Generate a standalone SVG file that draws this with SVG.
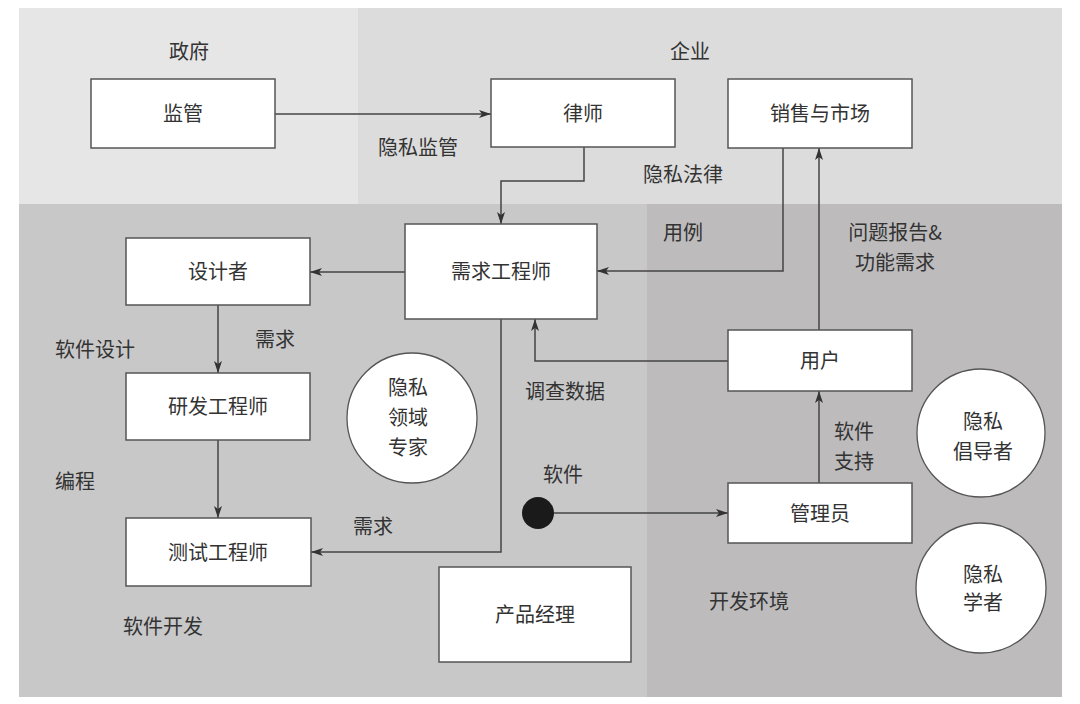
<svg xmlns="http://www.w3.org/2000/svg" width="1080" height="704" viewBox="0 0 1080 704">
<defs>
<marker id="arr" viewBox="0 0 12 8" refX="12" refY="4" markerWidth="12" markerHeight="8" markerUnits="userSpaceOnUse" orient="auto">
<path d="M0,0 L12,4 L0,8 L3,4 Z" fill="#333"/>
</marker>
<style>
text{font-family:"Noto Sans CJK SC","Liberation Sans",sans-serif;font-size:20px;fill:#333;text-anchor:middle}
.box{fill:#fff;stroke:#555;stroke-width:1.5}
.circ{fill:#fff;stroke:#555;stroke-width:1.3}
.conn{fill:none;stroke:#444;stroke-width:1.5;marker-end:url(#arr)}
</style>
</defs>
<rect x="0" y="0" width="1080" height="704" fill="#fff"/>
<g id="zones">
<rect x="19" y="8" width="339" height="196" fill="#e6e6e6"/>
<rect x="358" y="8" width="704" height="196" fill="#dcdcdc"/>
<rect x="19" y="204" width="628" height="493" fill="#c8c8c8"/>
<rect x="647" y="204" width="415" height="493" fill="#bdbbbc"/>
</g>
<g id="zone-labels">
<text x="189" y="59">政府</text>
<text x="690" y="59">企业</text>
</g>
<g id="connectors">
<path class="conn" d="M275,114 H491"/>
<path class="conn" d="M584,147 V181 H501 V224"/>
<path class="conn" d="M405,272 H310"/>
<path class="conn" d="M218,305 V373"/>
<path class="conn" d="M218,440 V518"/>
<path class="conn" d="M501,319 V552 H311"/>
<path class="conn" d="M783,148 V271 H597"/>
<path class="conn" d="M819,330 V148"/>
<path class="conn" d="M728,361 H535 V319"/>
<path class="conn" d="M819,483 V391"/>
<path class="conn" d="M554,513 H728"/>
</g>
<g id="connector-labels">
<text x="418" y="155">隐私监管</text>
<text x="683" y="182">隐私法律</text>
<text x="683" y="240">用例</text>
<text x="895" y="240">问题报告&amp;</text>
<text x="895" y="270">功能需求</text>
<text x="95" y="357">软件设计</text>
<text x="275" y="347">需求</text>
<text x="75" y="489">编程</text>
<text x="373" y="534">需求</text>
<text x="163" y="634">软件开发</text>
<text x="565" y="399">调查数据</text>
<text x="563" y="482">软件</text>
<text x="854" y="439">软件</text>
<text x="854" y="469">支持</text>
<text x="749" y="609">开发环境</text>
</g>
<g id="node-jianguan"><rect class="box" x="91" y="79" width="184" height="69"/><text x="183" y="121">监管</text></g>
<g id="node-lvshi"><rect class="box" x="491" y="79" width="184" height="68"/><text x="583" y="121">律师</text></g>
<g id="node-xiaoshou"><rect class="box" x="728" y="79" width="184" height="69"/><text x="820" y="121">销售与市场</text></g>
<g id="node-xuqiu"><rect class="box" x="405" y="224" width="192" height="95"/><text x="501" y="279">需求工程师</text></g>
<g id="node-sheji"><rect class="box" x="126" y="238" width="184" height="67"/><text x="218" y="279">设计者</text></g>
<g id="node-yanfa"><rect class="box" x="126" y="373" width="184" height="67"/><text x="218" y="414">研发工程师</text></g>
<g id="node-ceshi"><rect class="box" x="126" y="518" width="185" height="68"/><text x="218" y="560">测试工程师</text></g>
<g id="node-yonghu"><rect class="box" x="728" y="330" width="184" height="61"/><text x="820" y="368">用户</text></g>
<g id="node-guanliyuan"><rect class="box" x="728" y="483" width="184" height="60"/><text x="820" y="521">管理员</text></g>
<g id="node-chanpin"><rect class="box" x="439" y="567" width="192" height="95"/><text x="535" y="622">产品经理</text></g>
<g id="node-zhuanjia"><circle class="circ" cx="412" cy="418" r="65"/><text x="408" y="395">隐私</text><text x="408" y="425">领域</text><text x="408" y="455">专家</text></g>
<g id="node-changdao"><circle class="circ" cx="981" cy="433" r="64"/><text x="983" y="429">隐私</text><text x="983" y="459">倡导者</text></g>
<g id="node-xuezhe"><circle class="circ" cx="981" cy="588" r="65"/><text x="983" y="582">隐私</text><text x="983" y="610">学者</text></g>
<g id="node-ruanjian"><circle cx="538" cy="513" r="16" fill="#1a1a1a"/></g>
</svg>
